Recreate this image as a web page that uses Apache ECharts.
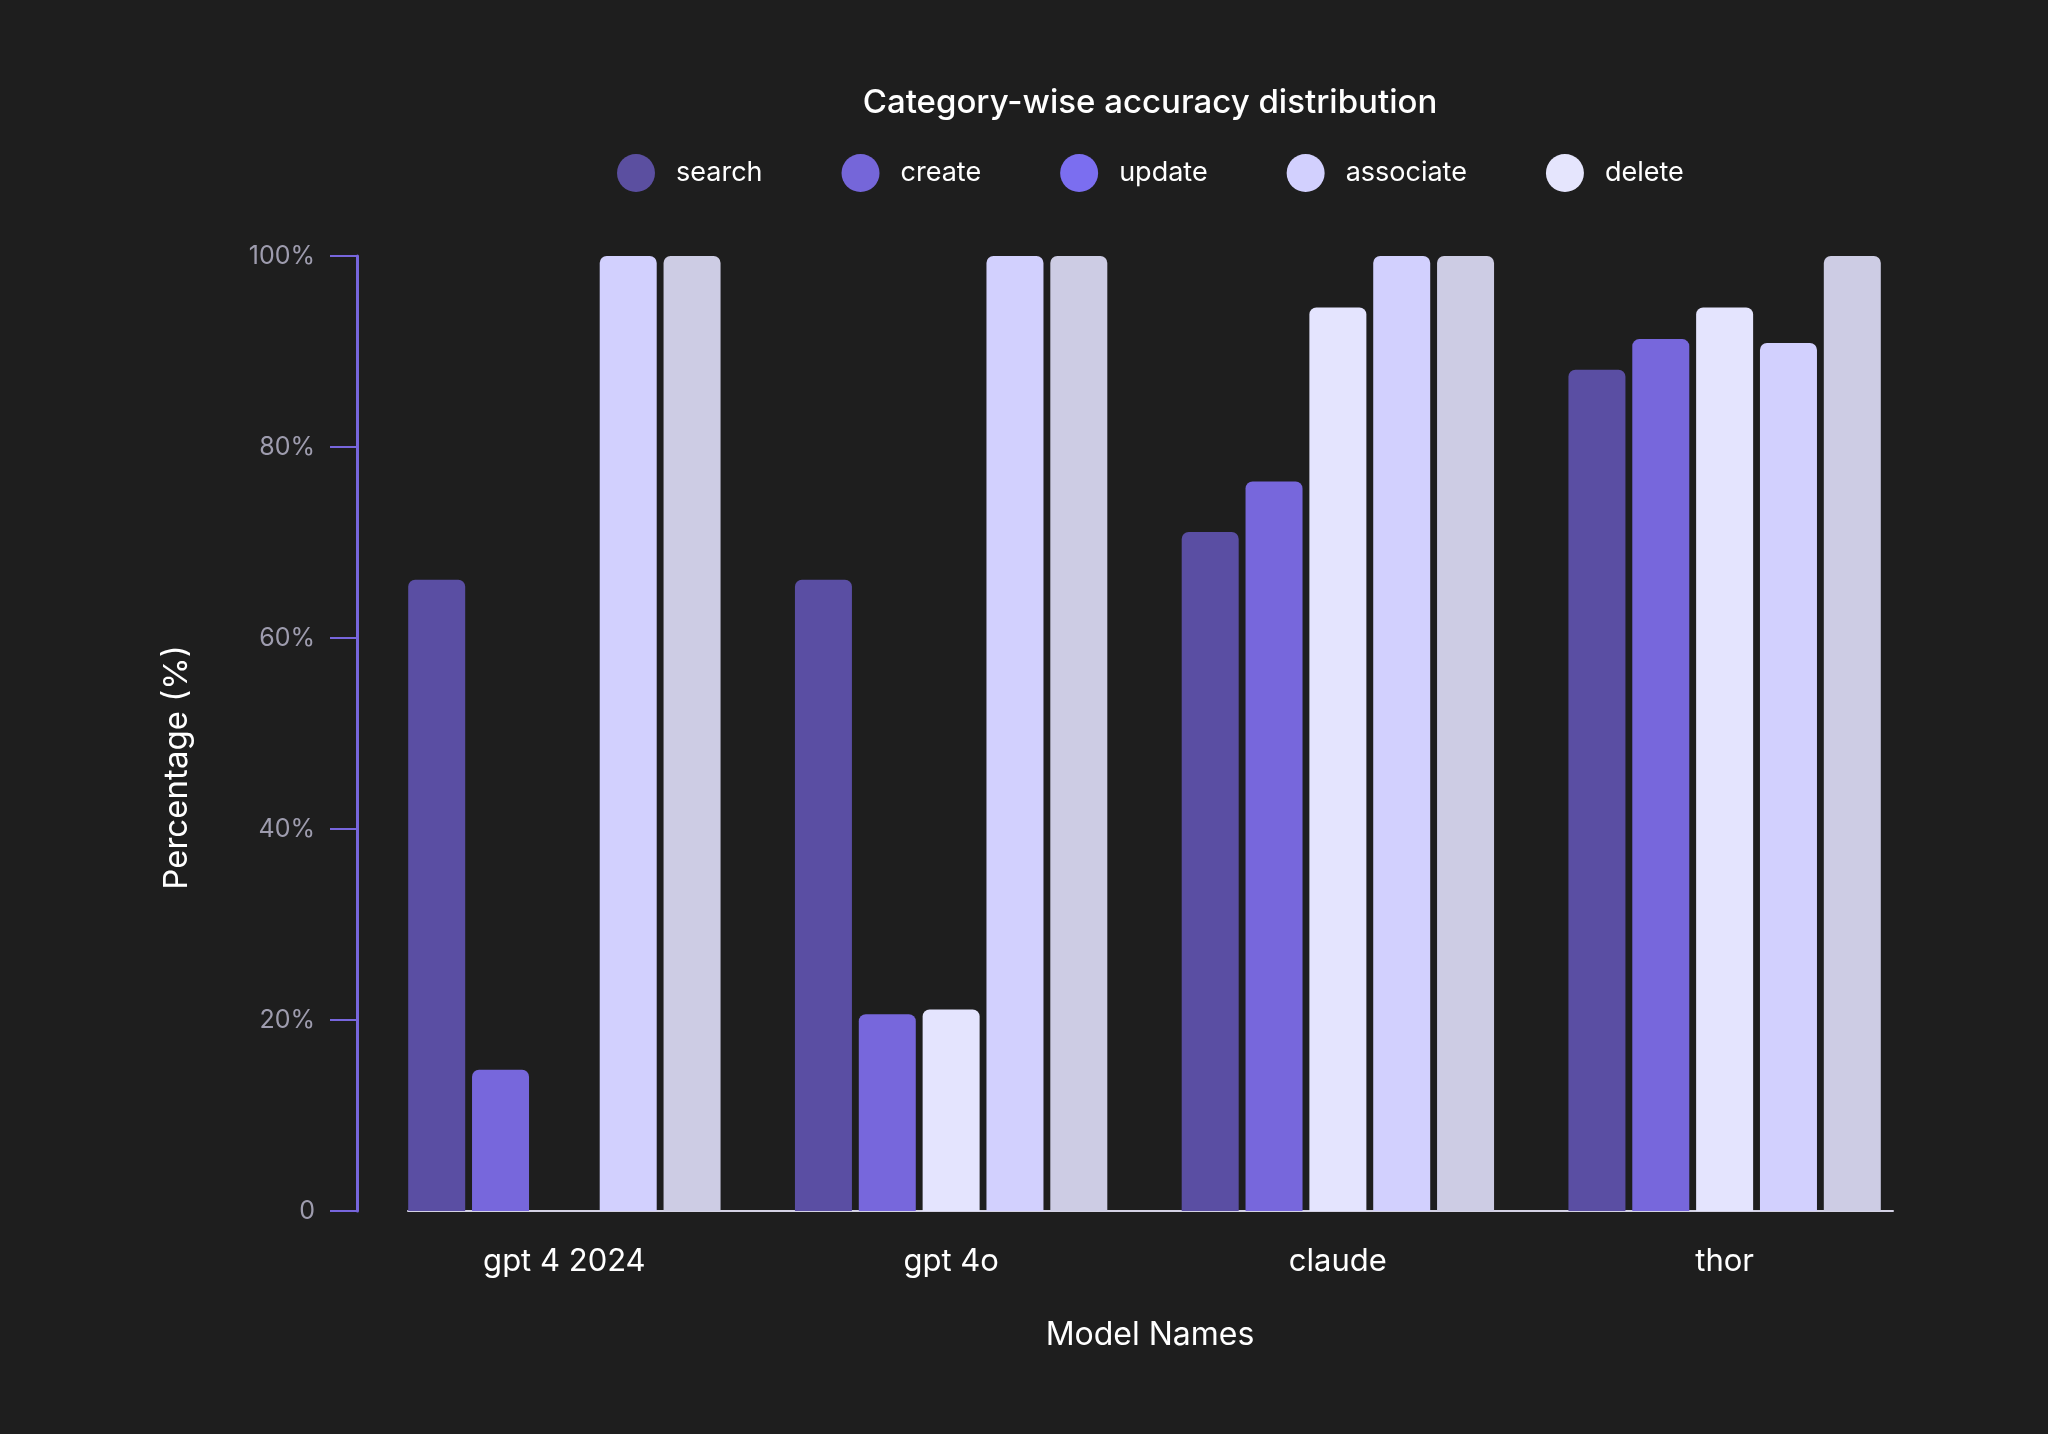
<!DOCTYPE html>
<html>
<head>
<meta charset="utf-8">
<script src="https://cdn.jsdelivr.net/npm/echarts@6/dist/echarts.min.js"></script>
<style>
html,body{margin:0;padding:0;background:#1e1e1e;}
#chart{width:2048px;height:1434px;}
</style>
</head>
<body>
<div id="chart"></div>
<script>
const models = ['gpt 4 2024', 'gpt 4o', 'claude', 'thor'];
const seriesNames = ['search', 'create', 'update', 'associate', 'delete'];
const search = [66.1, 66.1, 71.1, 88.1];
const create = [14.8, 20.6, 76.4, 91.3];
const update = [0, 21.1, 94.6, 94.6];
const associate = [100, 100, 100, 90.9];
const del = [100, 100, 100, 100];
const yTicks = [0, 20, 40, 60, 80, 100];

const barColors = ['#5a4ea3', '#7767dc', '#e4e4fe', '#d2d0fe', '#cdcce4'];
const legendColors = ['#5b4fa0', '#7566d9', '#7b6ef0', '#d2d0fe', '#e5e5fd'];
const values = [search, create, update, associate, del];
const FONT = 'Inter';

const chart = echarts.init(document.getElementById('chart'));
const option = {
  backgroundColor: '#1e1e1e',
  animation: false,
  title: {
    text: 'Category-wise accuracy distribution',
    left: 1145, textAlign: 'center', top: 82,
    textStyle: {color: '#ffffff', fontSize: 33, fontWeight: 500, fontFamily: FONT}
  },
  legend: {
    left: 617, top: 154, padding: 0,
    icon: 'circle', itemWidth: 38, itemHeight: 38, itemGap: 79,
    data: seriesNames.map((n, i) => ({name: n, itemStyle: {color: legendColors[i]}})),
    textStyle: {color: '#ffffff', fontSize: 27, fontFamily: FONT, padding: [0, 0, 0, 16]}
  },
  grid: [
    {left: 371, right: 130, top: 256, bottom: 223},
    {left: 408, right: 155, top: 256, bottom: 223}
  ],
  xAxis: [
    {
      type: 'category', data: models, gridIndex: 0,
      axisLine: {show: false}, axisTick: {show: false},
      axisLabel: {color: '#ffffff', fontSize: 31, fontFamily: FONT, margin: 35},
      name: 'Model Names', nameLocation: 'middle', nameGap: 108,
      nameTextStyle: {color: '#ffffff', fontSize: 32, fontFamily: FONT, padding: [0, 0, 0, 11]}
    },
    {
      type: 'category', data: [''], gridIndex: 1,
      axisLine: {show: true, lineStyle: {color: '#d4d2e4', width: 2}},
      axisTick: {show: false}, axisLabel: {show: false}
    }
  ],
  yAxis: [
    {
      type: 'value', gridIndex: 0, min: 0, max: 100, interval: 20, offset: 14,
      axisLine: {show: true, lineStyle: {color: '#7766dd', width: 3}},
      axisTick: {show: true, length: 27, lineStyle: {color: '#7766dd', width: 2}},
      splitLine: {show: false},
      axisLabel: {
        color: '#9e9cae', fontSize: 25, fontFamily: FONT, margin: 42,
        formatter: v => (yTicks.includes(v) ? (v === 0 ? '0' : v + '%') : '')
      },
      name: 'Percentage (%)', nameLocation: 'middle', nameGap: 163,
      nameTextStyle: {color: '#ffffff', fontSize: 33, fontFamily: FONT, padding: [0, 68, 0, 0]}
    },
    {type: 'value', gridIndex: 1, show: false, min: 0, max: 100}
  ],
  series: seriesNames.map((n, i) => ({
    name: n, type: 'bar', xAxisIndex: 0, yAxisIndex: 0,
    data: values[i],
    barWidth: 57, barGap: '12%',
    itemStyle: {color: barColors[i], borderRadius: [7, 7, 0, 0]}
  }))
};
chart.setOption(option);
</script>
</body>
</html>
